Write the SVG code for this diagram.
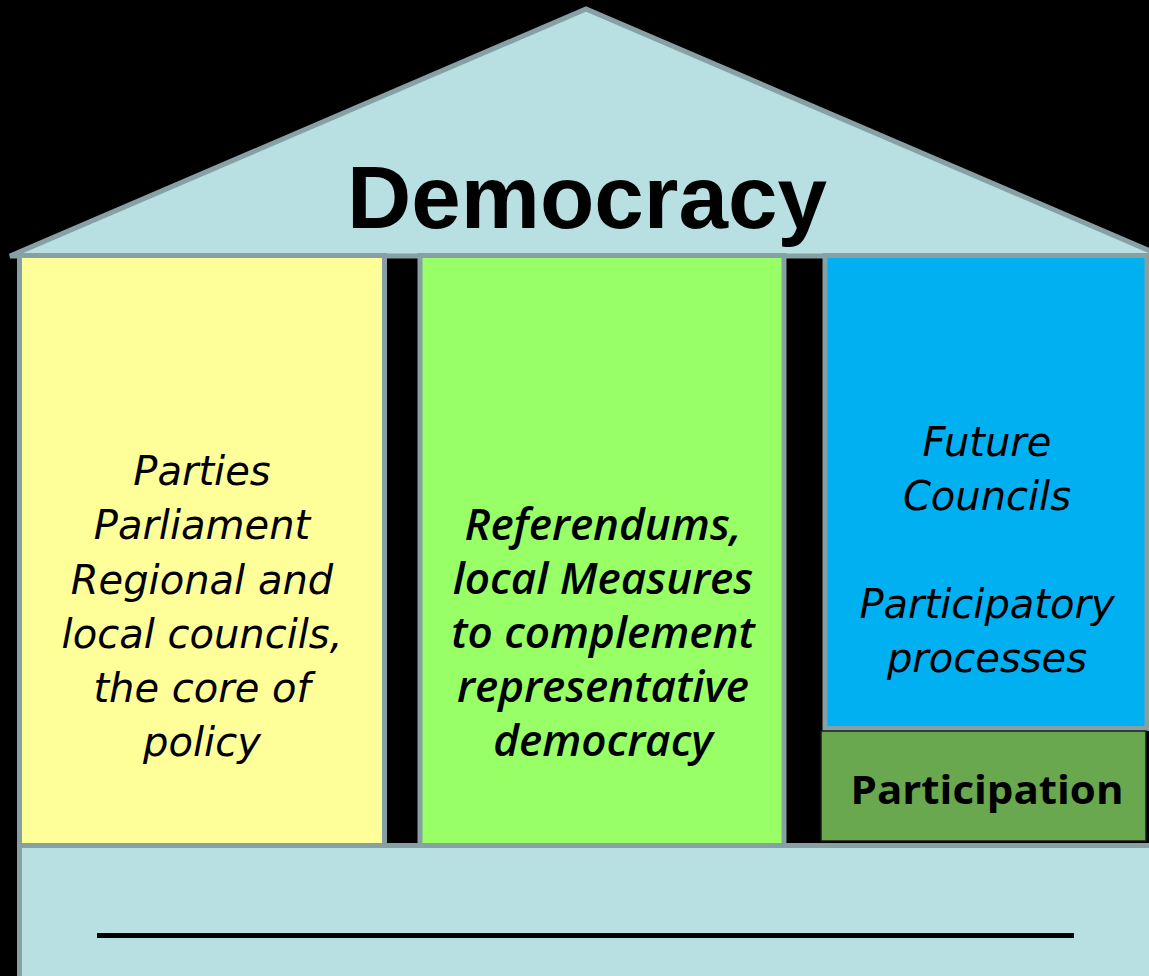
<svg xmlns="http://www.w3.org/2000/svg" width="1149" height="976" viewBox="0 0 1149 976">
<style>
.edge{stroke:#86a0a4;stroke-width:5}
.it{font-family:"DejaVu Sans","Open Sans",sans-serif;font-style:italic;font-size:40px;fill:#000;text-anchor:middle}
.bi{font-family:"Open Sans",Lato,sans-serif;font-style:italic;font-weight:600;font-size:44px;fill:#000;text-anchor:middle}
</style>
<rect width="1149" height="976" fill="#000"/>
<g id="roof">
<polygon class="edge" points="10,256 586,9 1162,256" fill="#b8dfe2"/>
<text x="587" y="228" font-family="Liberation Sans,Arial,sans-serif" font-weight="bold" font-size="89" text-anchor="middle">Democracy</text>
</g>
<g id="pillar-representative">
<rect class="edge" x="19.5" y="255.5" width="365" height="590" fill="#ffff99"/>
<text class="it" x="202"><tspan x="202" y="485">Parties</tspan><tspan x="202" y="539">Parliament</tspan><tspan x="202" y="594">Regional and</tspan><tspan x="202" y="648">local councils,</tspan><tspan x="202" y="702">the core of</tspan><tspan x="202" y="756">policy</tspan></text>
</g>
<g id="pillar-direct">
<rect class="edge" x="420" y="255.5" width="364" height="590" fill="#99ff66"/>
<text class="bi" x="603"><tspan x="603" y="540">Referendums,</tspan><tspan x="603" y="594">local Measures</tspan><tspan x="603" y="648">to complement</tspan><tspan x="603" y="702">representative</tspan><tspan x="603" y="756">democracy</tspan></text>
</g>
<g id="pillar-participatory">
<rect class="edge" x="825" y="255.5" width="322" height="473" fill="#00b0f0"/>
<text class="it" x="987"><tspan x="987" y="456">Future</tspan><tspan x="987" y="510">Councils</tspan><tspan x="987" y="618">Participatory</tspan><tspan x="987" y="672">processes</tspan></text>
</g>
<g id="base">
<rect class="edge" x="19.5" y="845.5" width="1140" height="140" fill="#b8dfe2"/>
<line x1="97" y1="935.5" x2="1074" y2="935.5" stroke="#000" stroke-width="5"/>
</g>
<g id="participation">
<rect x="821" y="731" width="325" height="110" fill="#6aa84f" stroke="#1a1a1a" stroke-width="1.5"/>
<text x="987" y="804" font-family="Open Sans,Lato,sans-serif" font-weight="bold" font-size="40" text-anchor="middle" textLength="273" lengthAdjust="spacingAndGlyphs">Participation</text>
</g>
<g id="connectors"></g>
</svg>
